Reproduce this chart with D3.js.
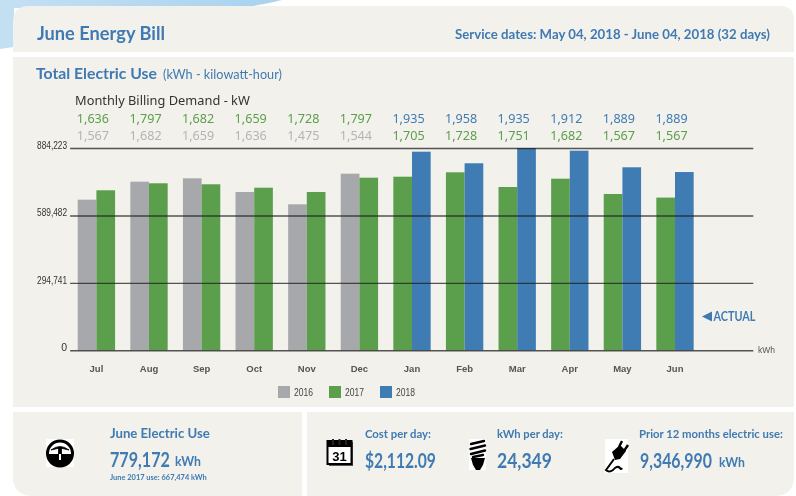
<!DOCTYPE html>
<html>
<head>
<meta charset="utf-8">
<script src="https://cdn.jsdelivr.net/npm/d3@7"></script>
<style>
  html, body { margin: 0; padding: 0; background: #fff; }
  svg { display: block; filter: blur(0.35px); }
</style>
</head>
<body>
<svg id="chart" width="796" height="496"></svg>
<script>
const months = ['Jul', 'Aug', 'Sep', 'Oct', 'Nov', 'Dec', 'Jan', 'Feb', 'Mar', 'Apr', 'May', 'Jun'];
const years = ['2016', '2017', '2018'];
const use2016 = [658300, 737000, 751800, 692000, 638200, 771900, null, null, null, null, null, null];
const use2017 = [699400, 730000, 725600, 710700, 692000, 754400, 758800, 778000, 713800, 750100, 683200, 667474];
const use2018 = [null, null, null, null, null, null, 868100, 817400, 884223, 872500, 799900, 779172];
const demandTop = ['1,636', '1,797', '1,682', '1,659', '1,728', '1,797', '1,935', '1,958', '1,935', '1,912', '1,889', '1,889'];
const demandBottom = ['1,567', '1,682', '1,659', '1,636', '1,475', '1,544', '1,705', '1,728', '1,751', '1,682', '1,567', '1,567'];
const yTicks = [0, 294741, 589482, 884223];

const colors = { 2016: '#a7a8ac', 2017: '#5b9f4c', 2018: '#3f7cb4' };
const blue = '#3f7ab3', panel = '#f2f1eb';

const svg = d3.select('#chart');

// background swoosh
const defs = svg.append('defs');
const grad = defs.append('linearGradient').attr('id', 'sky').attr('x1', 0).attr('x2', 1).attr('y1', 0).attr('y2', 0);
grad.append('stop').attr('offset', 0).attr('stop-color', '#c4e0f3');
grad.append('stop').attr('offset', 1).attr('stop-color', '#a9d2ee');
svg.append('path').attr('fill', 'url(#sky)')
  .attr('d', 'M0,0 L282,0 Q262,5 240,8 L14,8 L14,47 Q6,48 0,49 Z');

// panels
function roundedPanel(x, y, w, h, tl, tr, br, bl) {
  const p = d3.path();
  p.moveTo(x + tl, y);
  p.lineTo(x + w - tr, y);
  p.quadraticCurveTo(x + w, y, x + w, y + tr);
  p.lineTo(x + w, y + h - br);
  p.quadraticCurveTo(x + w, y + h, x + w - br, y + h);
  p.lineTo(x + bl, y + h);
  p.quadraticCurveTo(x, y + h, x, y + h - bl);
  p.lineTo(x, y + tl);
  p.quadraticCurveTo(x, y, x + tl, y);
  return p.toString();
}
const panels = svg.append('g').attr('fill', panel);
panels.append('path').attr('d', roundedPanel(13, 6, 781, 46, 16, 14, 0, 0));
panels.append('path').attr('d', roundedPanel(13, 57, 781, 350, 0, 0, 0, 0));
panels.append('path').attr('d', roundedPanel(13, 412, 289, 84, 0, 0, 0, 20));
panels.append('path').attr('d', roundedPanel(307, 412, 487, 84, 0, 0, 20, 0));

// text helper, fit = width in the reference, squeezes the text horizontally
function label(x, y, str, size, weight, fit, fill, family) {
  const t = svg.append('text').text(str)
    .attr('font-family', family || 'Lato, sans-serif')
    .attr('font-size', size).attr('font-weight', weight || 400)
    .attr('fill', fill || blue);
  const sx = fit / t.node().getComputedTextLength();
  t.attr('transform', `translate(${x},${y}) scale(${sx},1)`);
  return t;
}
label(37, 40, 'June Energy Bill', 18, 700, 128);
label(455, 39, 'Service dates: May 04, 2018 - June 04, 2018 (32 days)', 13, 700, 315);
label(36, 79, 'Total Electric Use', 16, 700, 121);
label(163, 79, '(kWh - kilowatt-hour)', 12.5, 400, 119);

// scales
const margin = { top: 148, bottom: 350.3, left: 70.1, right: 701.3 };
const gridRight = 753.3;
const x = d3.scaleBand().domain(months).range([margin.left, margin.right]).paddingInner(0.29).paddingOuter(0.145);
const y = d3.scaleLinear().domain([0, 884223]).range([margin.bottom, margin.top]);
const side = d3.scaleBand().domain([0, 1]).range([0, x.bandwidth()]);

// bars
const rows = months.map((m, i) => {
  const present = years
    .map((yr, k) => ({ year: yr, value: [use2016, use2017, use2018][k][i] }))
    .filter(d => d.value !== null);
  return present.map((d, j) => ({ month: m, year: d.year, value: d.value, slot: j }));
}).flat();

svg.append('g').selectAll('.bar')
  .data(rows)
  .join('rect')
  .classed('bar', true)
  .attr('x', d => x(d.month) + side(d.slot))
  .attr('width', side.bandwidth())
  .attr('y', d => y(d.value))
  .attr('height', d => y(0) - y(d.value))
  .attr('fill', d => colors[d.year]);

// grid lines + y labels, drawn over the bars
const yAxis = d3.axisLeft(y)
  .tickValues(yTicks)
  .tickFormat(d3.format(','))
  .tickSize(-(gridRight - margin.left))
  .tickPadding(3);
const yG = svg.append('g').attr('transform', `translate(${margin.left},0)`).call(yAxis);
yG.select('.domain').remove();
yG.selectAll('line').attr('stroke', '#1f1f1f').attr('stroke-opacity', 0.75).attr('stroke-width', 1.4);
yG.selectAll('text')
  .attr('dy', '0.02em')
  .attr('font-family', '"Liberation Sans", sans-serif')
  .attr('font-size', 10.5).attr('fill', '#333')
  .attr('textLength', d => d === 0 ? null : 30)
  .attr('lengthAdjust', 'spacingAndGlyphs');

// month labels
const xAxis = d3.axisBottom(x).tickSize(0).tickPadding(15);
const xG = svg.append('g').attr('transform', `translate(0,${margin.bottom})`).call(xAxis);
xG.select('.domain').remove();
xG.selectAll('text')
  .attr('font-family', '"Liberation Sans", sans-serif')
  .attr('font-size', 9.5).attr('font-weight', 700).attr('fill', '#555');

// billing demand rows
label(75, 105, 'Monthly Billing Demand - kW', 12.5, 400, 175, '#333', '"Noto Sans", sans-serif');
svg.append('g').selectAll('text')
  .data(demandTop)
  .join('text')
  .attr('x', (d, i) => x(months[i]) + x.bandwidth() / 2 - 3.5)
  .attr('y', 123)
  .attr('text-anchor', 'middle')
  .attr('font-family', '"Noto Sans", sans-serif').attr('font-size', 12.6)
  .attr('fill', (d, i) => i < 6 ? colors[2017] : colors[2018])
  .text(d => d);
svg.append('g').selectAll('text')
  .data(demandBottom)
  .join('text')
  .attr('x', (d, i) => x(months[i]) + x.bandwidth() / 2 - 3.5)
  .attr('y', 139.5)
  .attr('text-anchor', 'middle')
  .attr('font-family', '"Noto Sans", sans-serif').attr('font-size', 12.6)
  .attr('fill', (d, i) => i < 6 ? '#b3b4b6' : colors[2017])
  .text(d => d);

// kWh unit + ACTUAL flag
label(758, 353, 'kWh', 9, 400, 17, '#555', '"Liberation Sans", sans-serif');
svg.append('path').attr('fill', blue).attr('d', 'M702,316.5 L712,311.5 L712,321.5 Z');
label(713.5, 321, 'ACTUAL', 12.5, 700, 42);

// legend
const legendX = d3.scaleOrdinal().domain(years).range([278, 329, 380]);
const legend = svg.append('g').selectAll('g').data(years).join('g')
  .attr('transform', d => `translate(${legendX(d)},386)`);
legend.append('rect').attr('width', 12).attr('height', 12).attr('fill', d => colors[d]);
legend.append('text').attr('x', 16).attr('y', 10).text(d => d)
  .attr('font-family', '"Liberation Sans", sans-serif').attr('font-size', 10.5).attr('fill', '#444')
  .attr('textLength', 19).attr('lengthAdjust', 'spacingAndGlyphs');

// bottom stats
label(110, 438, 'June Electric Use', 13.5, 700, 100);
label(110, 467, '779,172', 20, 700, 60);
label(175, 466, 'kWh', 13, 700, 26);
label(110, 480, 'June 2017 use: 667,474 kWh', 8, 700, 97);

label(365, 438, 'Cost per day:', 12, 700, 66);
label(365, 468, '$2,112.09', 20, 700, 71);
label(497, 438, 'kWh per day:', 12, 700, 66);
label(497, 468, '24,349', 20, 700, 55);
label(639, 438, 'Prior 12 months electric use:', 12, 700, 144);
label(640, 468, '9,346,990', 20, 700, 72);
label(719, 467, 'kWh', 13, 700, 26);

// icons
const meter = svg.append('g');
meter.append('rect').attr('x', 46).attr('y', 439).attr('width', 28).attr('height', 28).attr('fill', '#fff');
meter.append('circle').attr('cx', 60).attr('cy', 453.5).attr('r', 12.5).attr('fill', '#fff').attr('stroke', '#000').attr('stroke-width', 3);
meter.append('path').attr('d', 'M48,454 A12,12 0 0 0 72,454 Z').attr('fill', '#000');
meter.append('path').attr('d', 'M51,450 Q60,443 69,450 L60,448 Z M58.5,448 L61.5,448 L61.5,459 L58.5,459 Z').attr('fill', '#000').attr('stroke', '#000').attr('stroke-width', 0.8);
meter.append('rect').attr('x', 59).attr('y', 454).attr('width', 2).attr('height', 6).attr('fill', '#fff');

const cal = svg.append('g');
cal.append('rect').attr('x', 329).attr('y', 442).attr('width', 24).attr('height', 24).attr('fill', '#555');
cal.append('rect').attr('x', 327.5).attr('y', 441).attr('width', 24).attr('height', 23).attr('fill', '#fff').attr('stroke', '#000').attr('stroke-width', 2);
cal.append('rect').attr('x', 327.5).attr('y', 441).attr('width', 24).attr('height', 6).attr('fill', '#000');
cal.selectAll('.ring').data([333, 339.5, 346]).join('rect').classed('ring', true)
  .attr('x', d => d - 1).attr('y', 439).attr('width', 2).attr('height', 6).attr('fill', '#222');
cal.append('text').attr('x', 339.5).attr('y', 461).attr('text-anchor', 'middle').text('31')
  .attr('font-family', '"Liberation Sans", sans-serif').attr('font-weight', 700).attr('font-size', 13).attr('fill', '#000');

const bulb = svg.append('g');
bulb.append('rect').attr('x', 469).attr('y', 439).attr('width', 17).attr('height', 31).attr('fill', '#fff');
bulb.append('path').attr('fill', 'none').attr('stroke', '#000').attr('stroke-width', 2.4).attr('stroke-linecap', 'round')
  .attr('d', 'M471,444 L484,441 M470.5,449 L485,445.5 M471,454 L485,450.5 M473,457 L483,455');
bulb.append('path').attr('fill', '#000').attr('d', 'M471,458 L485,458 L483,465 L480,470 L476,470 L473,465 Z');

const plug = svg.append('g');
plug.append('rect').attr('x', 605).attr('y', 439).attr('width', 23).attr('height', 34).attr('fill', '#fff');
plug.append('path').attr('fill', '#000').attr('d', 'M612,452 L620,445 L626,451 L620,459 L615,460 Z');
plug.append('path').attr('stroke', '#000').attr('stroke-width', 2.4).attr('fill', 'none')
  .attr('d', 'M619,447 L622,441 M624,451 L628,445');
plug.append('path').attr('stroke', '#000').attr('stroke-width', 2).attr('fill', 'none')
  .attr('d', 'M614,459 Q609,466 606,470 Q609,473 613,470 Q617,465 620,468 Q621,470 622,468');
</script>
</body>
</html>
